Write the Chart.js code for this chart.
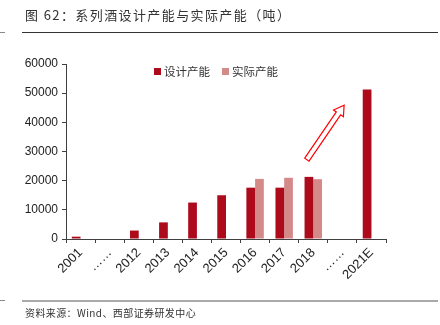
<!DOCTYPE html>
<html>
<head>
<meta charset="utf-8">
<script src="https://cdn.jsdelivr.net/npm/chart.js@4/dist/chart.umd.min.js"></script>
<style>
  body { margin: 0; background: #fff; }
  #wrap { position: relative; width: 440px; height: 325px; overflow: hidden; font-family: "Noto Sans CJK SC", sans-serif; }
  #title { position: absolute; left: 25px; top: 5px; font-size: 13px; letter-spacing: 1.4px; color: #333; }
  #source { position: absolute; left: 25px; top: 305px; font-size: 10px; letter-spacing: 0.4px; color: #333; }
  .rule { position: absolute; left: 22px; width: 416px; }
  .dash { position: absolute; left: 0; width: 5px; }
  #legend { position: absolute; left: 154px; top: 63px; font-size: 11.5px; color: #333; display: flex; align-items: center; }
  #legend span.box { display: inline-block; width: 7px; height: 7px; margin-right: 3px; }
  #legend span.item { display: flex; align-items: center; margin-right: 12px; }
  canvas { position: absolute; left: 0; top: 0; }
</style>
</head>
<body>
<div id="wrap">
  <canvas id="chart" width="440" height="325"></canvas>
  <div id="title">图 62：系列酒设计产能与实际产能（吨）</div>
  <div class="rule" style="top:32px;height:1px;background:#333"></div>
  <div class="dash" style="top:32px;height:1px;background:#888"></div>
  <div class="rule" style="top:300px;height:2px;background:#aaa"></div>
  <div class="dash" style="top:300px;height:1px;background:#888"></div>
  <div id="source">资料来源：Wind、西部证券研发中心</div>
  <div id="legend"></div>
</div>
<script>
// Data
const categories = ["2001", "……", "2012", "2013", "2014", "2015", "2016", "2017", "2018", "……", "2021E"]
const designCapacity = [800, null, 2900, 5700, 12500, 15000, 17600, 17600, 21300, null, 51300]
const actualCapacity = [null, null, null, null, null, null, 20600, 21000, 20500, null, null]
const yTicks = [0, 10000, 20000, 30000, 40000, 50000, 60000]

const designColor = "#AD0B1C"
const actualColor = "#D58A8A"
const axisColor = "#404040"

// HTML legend
const legendItems = [["设计产能", designColor], ["实际产能", actualColor]]
document.getElementById("legend").innerHTML = legendItems
  .map(([name, color]) => `<span class="item"><span class="box" style="background:${color}"></span>${name}</span>`)
  .join("")

// Hollow red arrow, placed through the scales
const arrowPlugin = {
  id: "arrow",
  afterDatasetsDraw(chart) {
    const x = chart.scales.x
    const y = chart.scales.y
    const x0 = x.getPixelForValue(7.78), y0 = y.getPixelForValue(27200)
    const x1 = x.getPixelForValue(9.06), y1 = y.getPixelForValue(45900)
    const dx = x1 - x0, dy = y1 - y0
    const len = Math.hypot(dx, dy)
    const ux = dx / len, uy = dy / len
    const nx = -uy, ny = ux
    const shaft = 2.6, head = 6, headLen = 10
    const bx = x1 - ux * headLen, by = y1 - uy * headLen
    const pts = [
      [x0 + nx * shaft, y0 + ny * shaft],
      [bx + nx * shaft, by + ny * shaft],
      [bx + nx * head, by + ny * head],
      [x1, y1],
      [bx - nx * head, by - ny * head],
      [bx - nx * shaft, by - ny * shaft],
      [x0 - nx * shaft, y0 - ny * shaft],
    ]
    const ctx = chart.ctx
    ctx.save()
    ctx.beginPath()
    pts.forEach((p, i) => (i ? ctx.lineTo(p[0], p[1]) : ctx.moveTo(p[0], p[1])))
    ctx.closePath()
    ctx.fillStyle = "#fff"
    ctx.fill()
    ctx.strokeStyle = "#FF0000"
    ctx.lineWidth = 1.2
    ctx.stroke()
    ctx.restore()
  },
}

new Chart(document.getElementById("chart"), {
  type: "bar",
  data: {
    labels: categories,
    datasets: [
      { label: "设计产能", data: designCapacity, backgroundColor: designColor, categoryPercentage: 0.6, barPercentage: 1 },
      { label: "实际产能", data: actualCapacity, backgroundColor: actualColor, categoryPercentage: 0.6, barPercentage: 1 },
    ],
  },
  options: {
    responsive: false,
    animation: false,
    layout: { padding: { top: 64, right: 54, left: 0, bottom: 0 } },
    plugins: { legend: { display: false }, tooltip: { enabled: false } },
    scales: {
      x: {
        afterFit: (s) => { s.height = 86 },
        grid: { display: true, drawOnChartArea: false, offset: true, tickLength: 4, color: axisColor },
        border: { color: axisColor, width: 1 },
        ticks: {
          minRotation: 45,
          maxRotation: 45,
          autoSkip: false,
          padding: 2,
          color: "#222",
          font: { family: "Liberation Sans, Arial", size: 13 },
        },
      },
      y: {
        min: 0,
        max: 60000,
        afterFit: (s) => { s.width = 66 },
        afterBuildTicks: (s) => { s.ticks = yTicks.map((v) => ({ value: v })) },
        grid: { display: true, drawOnChartArea: false, tickLength: 4, color: axisColor },
        border: { color: axisColor, width: 1 },
        ticks: {
          padding: 4,
          color: "#222",
          font: { family: "Liberation Sans, Arial", size: 12 },
          callback: (v) => String(v),
        },
      },
    },
  },
  plugins: [arrowPlugin],
})
</script>
</body>
</html>
